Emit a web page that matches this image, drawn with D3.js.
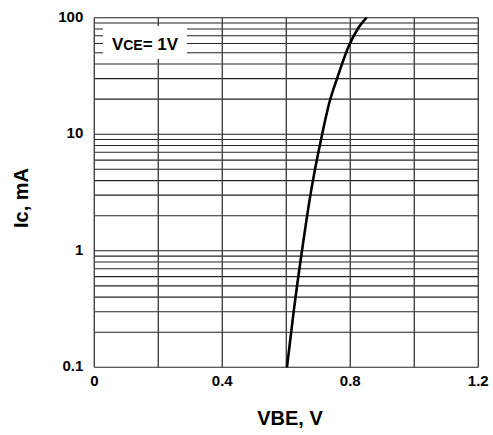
<!DOCTYPE html>
<html>
<head>
<meta charset="utf-8">
<script src="https://cdn.jsdelivr.net/npm/d3@7"></script>
<style>
  body { margin: 0; background: #fff; }
  text { font-family: "Liberation Sans", Arial, sans-serif; font-weight: bold; fill: #000; }
</style>
</head>
<body>
<div id="chart"></div>
<script>
// curve
var vbe = [0.602, 0.623, 0.649, 0.677, 0.712, 0.733, 0.762, 0.794, 0.823, 0.851];
var ic  = [0.1,   0.3,   1,     3.2,   10,    18,    32,    56,    80,    100];

var xGrid = [0, 0.2, 0.4, 0.6, 0.8, 1.0, 1.2];
var xLabels = [0, 0.4, 0.8, 1.2];
var yLabels = [0.1, 1, 10, 100];
var yGrid = [];
[0.1, 1, 10].forEach(function(dec) {
    for (var k = 1; k <= 9; k++) yGrid.push(+(dec * k).toPrecision(3));
});
yGrid.push(100);

var width = 493, height = 435;
var margin = {top: 17.7, right: 14.7, bottom: 67.7, left: 94.3};

var svg = d3.select("#chart").append("svg")
    .attr("width", width)
    .attr("height", height);

var x = d3.scaleLinear().domain([0, 1.2]).range([margin.left, width - margin.right]);
var y = d3.scaleLog().domain([0.1, 100]).range([height - margin.bottom, margin.top]);

//grid
svg.append("g").selectAll("line").data(yGrid).enter().append("line")
    .attr("x1", x(0)).attr("x2", x(1.2))
    .attr("y1", function(d) { return y(d); })
    .attr("y2", function(d) { return y(d); })
    .style("stroke", "#222").style("stroke-width", 1.1);

svg.append("g").selectAll("line").data(xGrid).enter().append("line")
    .attr("x1", function(d) { return x(d); })
    .attr("x2", function(d) { return x(d); })
    .attr("y1", y(0.1)).attr("y2", y(100))
    .style("stroke", "#444").style("stroke-width", 1.4);

//tick labels
svg.append("g").selectAll("text").data(xLabels).enter().append("text")
    .attr("x", function(d) { return x(d); })
    .attr("y", y(0.1) + 19)
    .attr("text-anchor", "middle")
    .style("font-size", "15px")
    .text(function(d) { return d === 0 ? "0" : d.toFixed(1); });

svg.append("g").selectAll("text").data(yLabels).enter().append("text")
    .attr("x", margin.left - 11)
    .attr("y", function(d) { return y(d) + 4; })
    .attr("text-anchor", "end")
    .style("font-size", "15px")
    .text(function(d) { return String(d); });

//axis titles
svg.append("text")
    .attr("x", 290).attr("y", 425)
    .attr("text-anchor", "middle")
    .style("font-size", "20px")
    .text("VBE, V");

svg.append("text")
    .attr("transform", "translate(28,198) rotate(-90)")
    .attr("text-anchor", "middle")
    .style("font-size", "20px")
    .text("Ic, mA");

//legend box
svg.append("rect")
    .attr("x", 103).attr("y", 26)
    .attr("width", 84).attr("height", 33)
    .style("fill", "#fff");

var lbl = svg.append("text")
    .attr("x", 145).attr("y", 49.5)
    .attr("text-anchor", "middle")
    .style("font-size", "17px");
lbl.append("tspan").text("V");
lbl.append("tspan").style("font-size", "14px").text("CE");
lbl.append("tspan").text("= 1V");

//curve
var pts = vbe.map(function(v, i) { return [v, ic[i]]; });
var line = d3.line()
    .x(function(d) { return x(d[0]); })
    .y(function(d) { return y(d[1]); })
    .curve(d3.curveMonotoneX);

svg.append("path")
    .datum(pts)
    .attr("d", line)
    .style("fill", "none")
    .style("stroke", "#000")
    .style("stroke-width", 2.6);
</script>
</body>
</html>
